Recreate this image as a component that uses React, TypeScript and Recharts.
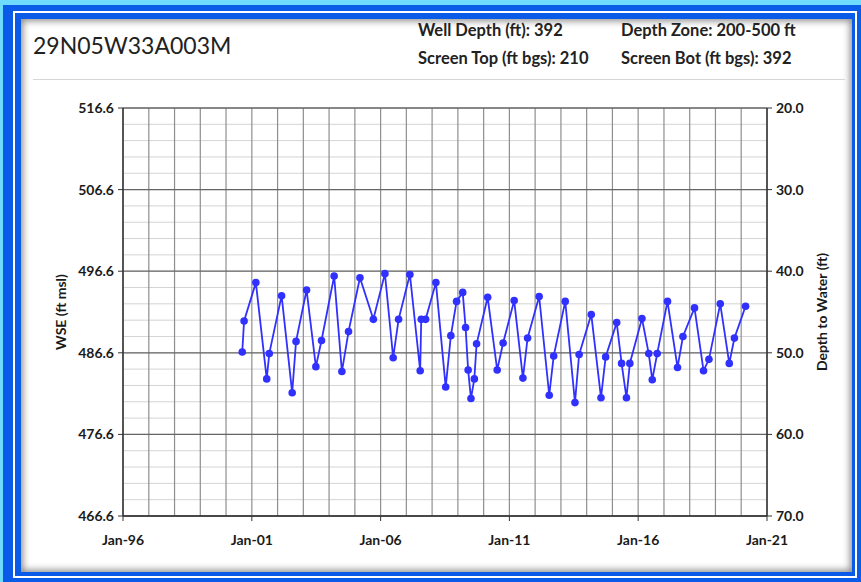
import React from 'react';
import { LineChart, Line, XAxis, YAxis, ReferenceLine } from 'recharts';

// sample dates and water surface elevation (ft msl)
const sampleDates = [
  '2000-08-18', '2000-09-13', '2001-02-27', '2001-07-31', '2001-09-05',
  '2002-02-27', '2002-07-27', '2002-09-20', '2003-02-16', '2003-06-28',
  '2003-09-16', '2004-03-13', '2004-07-01', '2004-10-03', '2005-03-14',
  '2005-09-20', '2006-03-03', '2006-06-28', '2006-09-13', '2007-02-20',
  '2007-07-16', '2007-07-31', '2007-10-01', '2008-02-24', '2008-07-12',
  '2008-09-23', '2008-12-13', '2009-03-10', '2009-04-20', '2009-05-26',
  '2009-07-05', '2009-08-22', '2009-09-23', '2010-02-27', '2010-07-12',
  '2010-10-04', '2011-03-10', '2011-07-12', '2011-09-16', '2012-02-27',
  '2012-07-19', '2012-09-20', '2013-03-03', '2013-07-19', '2013-09-16',
  '2014-03-07', '2014-07-23', '2014-09-27', '2015-03-03', '2015-05-11',
  '2015-07-19', '2015-09-05', '2016-02-24', '2016-05-30', '2016-07-19',
  '2016-09-27', '2017-02-20', '2017-07-12', '2017-09-27', '2018-03-10',
  '2018-07-16', '2018-10-01', '2019-03-10', '2019-07-16', '2019-09-27',
  '2020-03-03',
];
const wseValues = [
  486.7, 490.5, 495.2, 483.4, 486.5,
  493.6, 481.7, 488.0, 494.3, 484.9,
  488.1, 496.0, 484.3, 489.2, 495.8,
  490.7, 496.3, 486.0, 490.7, 496.2,
  484.4, 490.7, 490.7, 495.2, 482.4,
  488.7, 492.9, 494.0, 489.7, 484.5,
  481.0, 483.4, 487.7, 493.4, 484.5,
  487.8, 493.0, 483.5, 488.4, 493.5,
  481.4, 486.2, 492.9, 480.5, 486.4,
  491.3, 481.1, 486.1, 490.3, 485.3,
  481.1, 485.3, 490.8, 486.5, 483.3,
  486.5, 492.9, 484.8, 488.6, 492.1,
  484.4, 485.8, 492.6, 485.3, 488.4,
  492.3,
];

const wseTicks = [466.6, 476.6, 486.6, 496.6, 506.6, 516.6];
const dtwTicks = [20, 30, 40, 50, 60, 70];
const labelYears = [1996, 2001, 2006, 2011, 2016, 2021];
const labelText = ['Jan-96', 'Jan-01', 'Jan-06', 'Jan-11', 'Jan-16', 'Jan-21'];
const LAND_SURFACE = 536.6; // depth to water = land surface - WSE

const yearTs = (y: number) => Date.UTC(y, 0, 1);
const gridYears = Array.from({ length: 26 }, (_, i) => 1996 + i);
const minorLevels = Array.from({ length: 26 }, (_, i) => +(466.6 + i * 2).toFixed(1));

const data = sampleDates.map((d, i) => {
  const [y, m, day] = d.split('-').map(Number);
  return { t: Date.UTC(y, m - 1, day), wse: wseValues[i], dtw: +(LAND_SURFACE - wseValues[i]).toFixed(1) };
});

const tickStyle = { fontFamily: 'Lato', fontWeight: 700, fontSize: 14, fill: '#1a1a1a' };
const headStyle: React.CSSProperties = { position: 'absolute', fontSize: 16.5, fontWeight: 700, color: '#222', whiteSpace: 'nowrap' };

const App: React.FC = () => {
  return (
    <div style={{ position: 'absolute', left: 0, top: 0, width: 861, height: 582, overflow: 'hidden', background: '#70dafc', fontFamily: 'Lato' }}>
      <div style={{ position: 'absolute', left: 3, top: 5, width: 858, height: 577, background: '#0a5ce8' }} />
      <div style={{ position: 'absolute', left: 13, top: 11, width: 844, height: 567, border: '2px solid #ffffff', boxSizing: 'border-box' }} />
      <div style={{ position: 'absolute', left: 21, top: 19, width: 831, height: 553, background: '#ffffff', boxShadow: 'inset 0 0 7px 2px rgba(0,0,0,0.45)' }} />

      <div style={{ position: 'absolute', left: 33, top: 31, fontSize: 23, color: '#222', whiteSpace: 'nowrap' }}>29N05W33A003M</div>
      <div style={{ ...headStyle, left: 418, top: 20 }}>Well Depth (ft): 392</div>
      <div style={{ ...headStyle, left: 621, top: 20 }}>Depth Zone: 200-500 ft</div>
      <div style={{ ...headStyle, left: 418, top: 48 }}>Screen Top (ft bgs): 210</div>
      <div style={{ ...headStyle, left: 621, top: 48 }}>Screen Bot (ft bgs): 392</div>
      <div style={{ position: 'absolute', left: 33, top: 79, width: 812, height: 1, background: '#d6d6d6' }} />

      <div style={{ position: 'absolute', left: 0, top: 0 }}>
        <LineChart width={861} height={582} data={data} margin={{ top: 108, right: 34, bottom: 36, left: 63 }}>
          <XAxis
            type="number"
            dataKey="t"
            domain={[yearTs(1996), yearTs(2021)]}
            ticks={labelYears.map(yearTs)}
            tickFormatter={(v: number) => labelText[labelYears.indexOf(new Date(v).getUTCFullYear())] ?? ''}
            tick={tickStyle}
            tickSize={5}
            tickMargin={14}
            height={30}
            axisLine={{ stroke: '#333', strokeWidth: 1.5 }}
            tickLine={{ stroke: '#333' }}
            allowDataOverflow
          />
          <YAxis
            domain={[466.6, 516.6]}
            ticks={wseTicks}
            tickFormatter={(v: number) => v.toFixed(1)}
            tick={tickStyle}
            tickSize={5}
            tickMargin={4}
            width={60}
            axisLine={{ stroke: '#333', strokeWidth: 1.5 }}
            tickLine={{ stroke: '#333' }}
            allowDataOverflow
          />
          <YAxis
            yAxisId="dtw"
            orientation="right"
            reversed
            domain={[20, 70]}
            ticks={dtwTicks}
            tickFormatter={(v: number) => v.toFixed(1)}
            tick={tickStyle}
            tickSize={5}
            tickMargin={4}
            width={60}
            axisLine={{ stroke: '#333', strokeWidth: 1.5 }}
            tickLine={{ stroke: '#333' }}
            allowDataOverflow
          />
          {minorLevels.map((v) => (
            <ReferenceLine key={'h' + v} y={v} stroke="#d4d4d4" strokeWidth={1} />
          ))}
          {gridYears.map((y) => (
            <ReferenceLine key={'v' + y} x={yearTs(y)} stroke="#8e8e8e" strokeWidth={1.2} />
          ))}
          {wseTicks.map((v) => (
            <ReferenceLine key={'m' + v} y={v} stroke="#666666" strokeWidth={1.3} />
          ))}
          <Line
            yAxisId="dtw"
            dataKey="dtw"
            stroke="none"
            dot={false}
            activeDot={false}
            isAnimationActive={false}
          />
          <Line
            dataKey="wse"
            stroke="#3030ff"
            strokeWidth={1.8}
            dot={{ r: 3.8, fill: '#3030ff', stroke: 'none' }}
            activeDot={false}
            isAnimationActive={false}
          />
        </LineChart>
      </div>

      <div style={{ position: 'absolute', left: 60, top: 312, transform: 'translate(-50%, -50%) rotate(-90deg)', fontSize: 14, fontWeight: 700, color: '#1a1a1a', whiteSpace: 'nowrap' }}>WSE (ft msl)</div>
      <div style={{ position: 'absolute', left: 821, top: 312, transform: 'translate(-50%, -50%) rotate(-90deg)', fontSize: 14, fontWeight: 700, color: '#1a1a1a', whiteSpace: 'nowrap' }}>Depth to Water (ft)</div>
    </div>
  );
};

export default App;
